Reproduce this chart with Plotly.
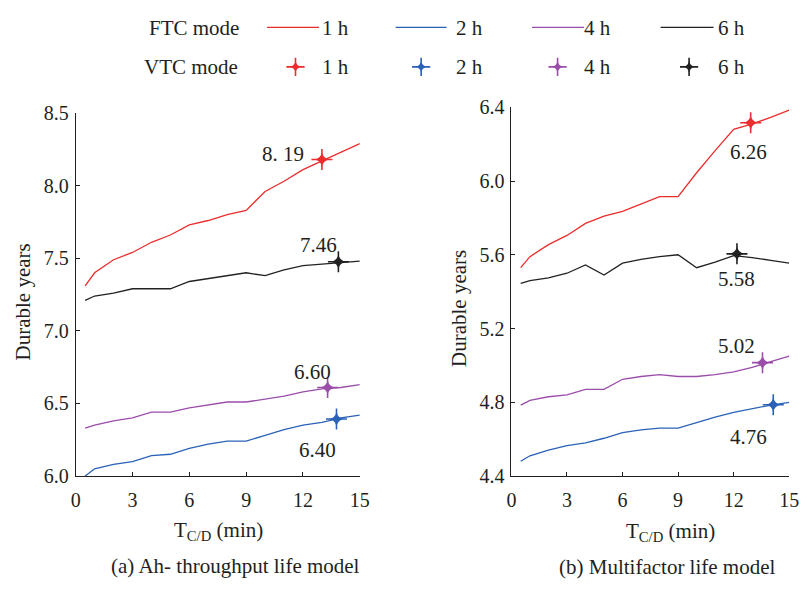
import plotly.graph_objects as go

W, H = 809, 592

# ---------------- data ----------------
t_cd = [0.5, 1, 2, 3, 4, 5, 6, 7, 8, 9, 10, 11, 12, 13, 14, 15]

# (a) Ah-throughput life model, FTC mode
ftc_a_1h = [7.31, 7.40, 7.49, 7.54, 7.61, 7.66, 7.73, 7.76, 7.80, 7.83, 7.96, 8.03, 8.11, 8.17, 8.23, 8.29]
ftc_a_2h = [6.00, 6.05, 6.08, 6.10, 6.14, 6.15, 6.19, 6.22, 6.24, 6.24, 6.28, 6.32, 6.35, 6.37, 6.40, 6.42]
ftc_a_4h = [6.33, 6.35, 6.38, 6.40, 6.44, 6.44, 6.47, 6.49, 6.51, 6.51, 6.53, 6.55, 6.58, 6.60, 6.61, 6.63]
ftc_a_6h = [7.21, 7.24, 7.26, 7.29, 7.29, 7.29, 7.34, 7.36, 7.38, 7.40, 7.38, 7.42, 7.45, 7.46, 7.47, 7.48]

# (b) Multifactor life model, FTC mode
ftc_b_1h = [5.53, 5.59, 5.655, 5.705, 5.77, 5.81, 5.835, 5.875, 5.915, 5.915, 6.045, 6.165, 6.28, 6.31, 6.345, 6.385]
ftc_b_2h = [4.48, 4.51, 4.54, 4.565, 4.58, 4.605, 4.635, 4.65, 4.66, 4.66, 4.69, 4.72, 4.745, 4.765, 4.785, 4.80]
ftc_b_4h = [4.785, 4.81, 4.83, 4.84, 4.87, 4.87, 4.925, 4.94, 4.95, 4.94, 4.94, 4.95, 4.965, 4.99, 5.02, 5.05]
ftc_b_6h = [5.445, 5.46, 5.475, 5.50, 5.545, 5.49, 5.555, 5.575, 5.59, 5.60, 5.53, 5.56, 5.595, 5.585, 5.57, 5.555]

# VTC mode points (order: 1h, 2h, 4h, 6h)
vtc_a_t = [13.0, 13.77, 13.3, 13.87]
vtc_a_y = [8.18, 6.393, 6.61, 7.476]
vtc_a_labels = ["8. 19", "6.40", "6.60", "7.46"]
vtc_a_label_t = [10.95, 12.77, 12.5, 12.82]
vtc_a_label_y = [8.22, 6.18, 6.72, 7.59]

vtc_b_t = [12.92, 14.14, 13.56, 12.18]
vtc_b_y = [6.316, 4.787, 5.015, 5.605]
vtc_b_labels = ["6.26", "4.76", "5.02", "5.58"]
vtc_b_label_t = [12.8, 12.8, 12.13, 12.13]
vtc_b_label_y = [6.155, 4.614, 5.105, 5.47]

hours = ["1 h", "2 h", "4 h", "6 h"]
colors = ["#EC2D2D", "#2A62B8", "#9B4DAA", "#222222"]

x_ticks = [0, 3, 6, 9, 12, 15]
y_ticks_a = [6.0, 6.5, 7.0, 7.5, 8.0, 8.5]
y_ticks_b = [4.4, 4.8, 5.2, 5.6, 6.0, 6.4]

FONT = "Liberation Serif"
TXT = "#231f20"

fig = go.Figure()


def add_star(xs, ys, xa, ya, color, big=15, small=10, name=""):
    # thin cross with a thickened centre (VTC mode marker)
    fig.add_trace(go.Scatter(x=xs, y=ys, mode="markers", xaxis=xa, yaxis=ya, showlegend=False,
                             marker=dict(symbol="cross-thin", size=big, color=color,
                                         line=dict(color=color, width=1.6)),
                             name=name, hoverinfo="skip"))
    fig.add_trace(go.Scatter(x=xs, y=ys, mode="markers", xaxis=xa, yaxis=ya, showlegend=False,
                             marker=dict(symbol="star-diamond", size=small, color=color),
                             name=name))


series_a = [ftc_a_1h, ftc_a_2h, ftc_a_4h, ftc_a_6h]
series_b = [ftc_b_1h, ftc_b_2h, ftc_b_4h, ftc_b_6h]
for i in range(4):
    fig.add_trace(go.Scatter(x=t_cd, y=series_a[i], mode="lines", xaxis="x", yaxis="y",
                             line=dict(color=colors[i], width=1.3), showlegend=False,
                             name="FTC " + hours[i]))
    fig.add_trace(go.Scatter(x=t_cd, y=series_b[i], mode="lines", xaxis="x2", yaxis="y2",
                             line=dict(color=colors[i], width=1.3), showlegend=False,
                             name="FTC " + hours[i]))
for i in range(4):
    add_star([vtc_a_t[i]], [vtc_a_y[i]], "x", "y", colors[i], name="VTC " + hours[i])
    add_star([vtc_b_t[i]], [vtc_b_y[i]], "x2", "y2", colors[i], name="VTC " + hours[i])

annotations = []
for i in range(4):
    annotations.append(dict(x=vtc_a_label_t[i], y=vtc_a_label_y[i], xref="x", yref="y",
                            text=vtc_a_labels[i], showarrow=False,
                            font=dict(family=FONT, size=21, color=TXT)))
    annotations.append(dict(x=vtc_b_label_t[i], y=vtc_b_label_y[i], xref="x2", yref="y2",
                            text=vtc_b_labels[i], showarrow=False,
                            font=dict(family=FONT, size=21, color=TXT)))


def px(x, y):
    return x / W, 1 - y / H


def text_ann(x, y, s, size=21, angle=0):
    X, Y = px(x, y)
    return dict(x=X, y=Y, xref="paper", yref="paper", text=s, showarrow=False,
                xanchor="center", yanchor="middle", textangle=angle,
                font=dict(family=FONT, size=size, color=TXT))


# axis titles and captions
annotations.append(text_ann(218, 540, "T<sub>C/D</sub> (min)", 21))
annotations.append(text_ann(678, 541, "T<sub>C/D</sub> (min)", 21))
annotations.append(text_ann(235, 576, "(a) Ah- throughput life model", 21))
annotations.append(text_ann(675, 577, "(b) Multifactor life model", 21))
annotations.append(text_ann(18, 302, "Durable years", 21, -90))
annotations.append(text_ann(462, 309, "Durable years", 21, -90))

# manual legend
annotations.append(text_ann(193, 18, "FTC mode", 21))
annotations.append(text_ann(190, 58, "VTC mode", 21))
leg_line_x = [(267, 320), (398, 450), (537, 590), (668, 722)]
leg_text_x = [337, 473, 604, 740]
leg_star_x = [296, 424, 563, 697]
shapes = []
for i in range(4):
    x0, y0 = px(leg_line_x[i][0], 17)
    x1, _ = px(leg_line_x[i][1], 17)
    shapes.append(dict(type="line", xref="paper", yref="paper", x0=x0, x1=x1, y0=y0, y1=y0,
                       line=dict(color=colors[i], width=1.3)))
    annotations.append(text_ann(leg_text_x[i], 18, hours[i], 21))
    annotations.append(text_ann(leg_text_x[i], 58, hours[i], 21))

# legend star keys on a hidden strip axis covering only the top band (pixel-like units)
for i in range(4):
    add_star([leg_star_x[i]], [58], "x3", "y3", colors[i], big=13, small=8)

axis_common = dict(showline=True, linecolor=TXT, linewidth=1, showgrid=False, zeroline=False,
                   ticks="inside", ticklen=4, tickcolor=TXT, tickwidth=1,
                   tickfont=dict(family=FONT, size=20, color=TXT), mirror=False)

fig.update_layout(
    width=W, height=H,
    margin=dict(l=0, r=0, t=0, b=0),
    paper_bgcolor="white", plot_bgcolor="rgba(0,0,0,0)",
    xaxis=dict(domain=[72 / W, 361.5 / W], range=[0, 15], tickvals=x_ticks, anchor="y",
               ticklabelstandoff=6, **axis_common),
    yaxis=dict(domain=[1 - 483 / H, 1 - 106 / H], range=[6.0, 8.5], tickvals=y_ticks_a,
               tickformat=".1f", anchor="x", ticklabelstandoff=2, **axis_common),
    xaxis2=dict(domain=[516 / W, 799 / W], range=[0, 15], tickvals=x_ticks, anchor="y2",
                ticklabelstandoff=6, **axis_common),
    yaxis2=dict(domain=[1 - 483 / H, 1 - 100 / H], range=[4.4, 6.4], tickvals=y_ticks_b,
                tickformat=".1f", anchor="x2", ticklabelstandoff=2, **axis_common),
    xaxis3=dict(domain=[0, 1], range=[0, W], visible=False, anchor="y3", fixedrange=True),
    yaxis3=dict(domain=[1 - 80 / H, 1], range=[80, 0], visible=False, anchor="x3", fixedrange=True),
    annotations=annotations,
    shapes=shapes,
    showlegend=False,
)

fig.write_html("out.html")
